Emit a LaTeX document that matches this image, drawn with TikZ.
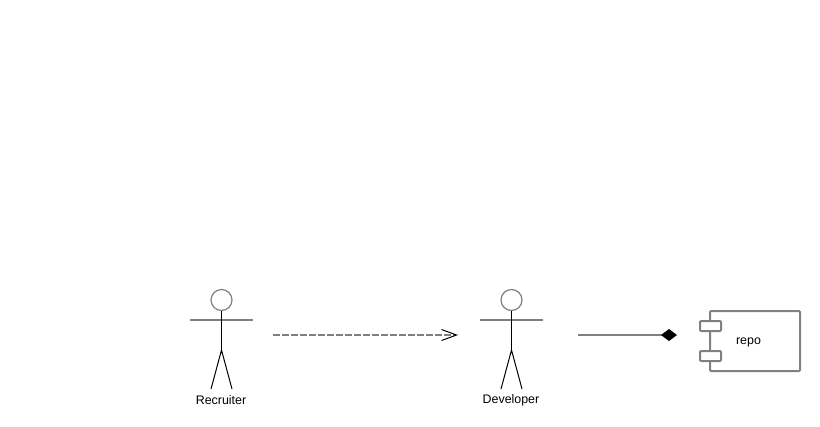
\documentclass[tikz,border=0pt]{standalone}
\usepackage{fontspec}
\setmainfont{Liberation Sans}
\usetikzlibrary{arrows.meta}

\definecolor{softline}{gray}{0.5}

\tikzset{
  px/.style={x=0.75pt,y=-0.75pt,line width=0.75pt},
  softstroke/.style={draw=softline,line width=1.5pt},
  actorbox/.style={minimum width=47.25pt,minimum height=69pt,inner sep=0pt,outer sep=0pt},
  actorhead/.style={circle,draw=softline,line width=0.9pt,fill=white,minimum size=15.75pt,inner sep=0pt,outer sep=0pt},
  actorlabel/.style={font=\fontsize{9.3}{11}\selectfont,inner sep=0pt},
  compbox/.style={softstroke,fill=white,rounded corners=0.75pt,minimum width=67.5pt,minimum height=45pt,inner sep=0pt,outer sep=0pt},
  portbox/.style={softstroke,fill=white,rounded corners=0.75pt,minimum width=15.75pt,minimum height=7.5pt,inner sep=0pt,outer sep=0pt},
  dep/.style={softstroke,dash pattern=on 5.25pt off 1.5pt,-{Straight Barb[length=11.25pt,width=8.25pt,line width=0.75pt,black]}},
  owns/.style={softstroke,-{Diamond[length=12pt,width=9pt,fill=black,black]}},
}

% #1 name, #2 x, #3 text
\newcommand{\actorfig}[3]{
  \node[actorbox] (#1) at (#2,335) {};
  \draw[softstroke] (#2-31.5,320) -- (#2+31.5,320);
  \node[actorhead] (#1head) at (#2,300) {};
  \draw (#2,311) -- (#2,350);
  \draw (#2-10.5,389) -- (#2,350) -- (#2+10.5,389);
  \node[actorlabel] (#1label) at (#2-0.5,400.5) {#3};
}

\begin{document}
\begin{tikzpicture}[px]
\useasboundingbox (0,0) rectangle (820,426);

\actorfig{recruiter}{221.5}{Recruiter}
\actorfig{developer}{511.5}{Developer}

\node[compbox] (repo) at (755,341) {};
\node[portbox] (porta) at (710.5,326) {};
\node[portbox] (portb) at (710.5,356) {};
\node[actorlabel] (repolabel) at (748.5,342.5) {repo};

\draw[dep,shorten <=15pt,shorten >=16.5pt] (recruiter.east) -- (developer.west);
\draw[owns,shorten <=26.25pt,shorten >=24.75pt] (developer.east) -- (developer.east -| repo.west);
\end{tikzpicture}
\end{document}
